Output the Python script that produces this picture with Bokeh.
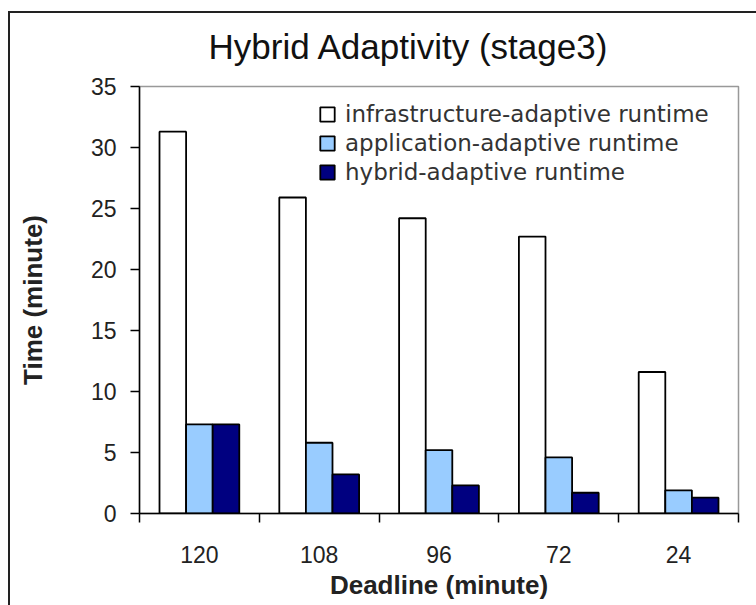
from bokeh.plotting import figure
from bokeh.models import (Range1d, FixedTicker, Legend, LegendItem, ColumnDataSource)
from bokeh.embed import file_html
from bokeh.resources import INLINE

# ---- data ----
title_text = "Hybrid Adaptivity (stage3)"
deadlines = ["120", "108", "96", "72", "24"]
series_names = ["infrastructure-adaptive runtime",
                "application-adaptive runtime",
                "hybrid-adaptive runtime"]
infra_runtime = [31.3, 25.9, 24.2, 22.7, 11.6]
app_runtime = [7.3, 5.8, 5.2, 4.6, 1.9]
hybrid_runtime = [7.3, 3.2, 2.3, 1.7, 1.3]
y_ticks = [0, 5, 10, 15, 20, 25, 30, 35]

# ---- styling ----
colors = ["#FFFFFF", "#99CCFF", "#000080"]
bar_w = 0.222
offsets = [-bar_w, 0.0, bar_w]

n = len(deadlines)
centers = [i + 0.5 for i in range(n)]

# chart-area border (left and top edges visible) painted behind a transparent canvas
border_css = ("linear-gradient(#222222,#222222) 8px 11px / 2px 100% no-repeat, "
              "linear-gradient(#222222,#222222) 8px 11px / 100% 2px no-repeat, white")

p = figure(width=756, height=605, output_backend="svg", toolbar_location=None,
           x_range=Range1d(0, n), y_range=Range1d(0, 35),
           min_border_left=139, min_border_right=18,
           min_border_top=86, min_border_bottom=92,
           styles={"background": border_css})

p.background_fill_color = "white"
p.border_fill_color = None
p.outline_line_color = "#999999"
p.outline_line_width = 1.5
p.xgrid.visible = False
p.ygrid.visible = False

# title
p.title.text = title_text
p.title.text_font = "Liberation Sans"
p.title.text_font_size = "35px"
p.title.text_font_style = "normal"
p.title.text_color = "#111111"
p.title.align = "left"
p.title.offset = 69
p.title.standoff = 41

renderers = []
for vals, col, off in zip([infra_runtime, app_runtime, hybrid_runtime], colors, offsets):
    src = ColumnDataSource(dict(x=[c + off for c in centers], top=vals))
    r = p.vbar(x="x", top="top", width=bar_w, bottom=0, source=src,
               fill_color=col, line_color="#000000", line_width=1.8)
    renderers.append(r)

# x axis: labels at category centres, ticks at category boundaries
xa = p.xaxis[0]
xa.ticker = FixedTicker(ticks=centers, minor_ticks=list(range(n + 1)))
xa.major_label_overrides = {c: lab for c, lab in zip(centers, deadlines)}
xa.major_tick_out = 0
xa.major_tick_in = 0
xa.minor_tick_out = 9
xa.minor_tick_in = 0
xa.minor_tick_line_color = "black"
xa.minor_tick_line_width = 1.5
xa.axis_line_color = "black"
xa.axis_line_width = 1.5
xa.major_label_text_font = "Liberation Sans"
xa.major_label_text_font_size = "23px"
xa.major_label_text_color = "#222222"
xa.major_label_standoff = 23
xa.axis_label = "Deadline (minute)"
xa.axis_label_text_font = "Liberation Sans"
xa.axis_label_text_font_size = "26px"
xa.axis_label_text_font_style = "bold"
xa.axis_label_text_color = "#222222"
xa.axis_label_standoff = 4

ya = p.yaxis[0]
ya.ticker = FixedTicker(ticks=y_ticks)
ya.minor_tick_out = 0
ya.minor_tick_in = 0
ya.major_tick_out = 9
ya.major_tick_in = 0
ya.major_tick_line_color = "black"
ya.major_tick_line_width = 1.5
ya.axis_line_color = "black"
ya.axis_line_width = 1.5
ya.major_label_text_font = "Liberation Sans"
ya.major_label_text_font_size = "23px"
ya.major_label_text_color = "#222222"
ya.major_label_standoff = 14
ya.axis_label = "Time (minute)"
ya.axis_label_text_font = "Liberation Sans"
ya.axis_label_text_font_size = "26px"
ya.axis_label_text_font_style = "bold"
ya.axis_label_text_color = "#222222"
ya.axis_label_standoff = 40

legend = Legend(items=[LegendItem(label=name, renderers=[r])
                       for name, r in zip(series_names, renderers)],
                location=(179, 328))
legend.border_line_alpha = 0
legend.background_fill_alpha = 0
legend.padding = 0
legend.margin = 0
legend.spacing = 2
legend.label_height = 27
legend.glyph_width = 18
legend.glyph_height = 18
legend.label_standoff = 9
legend.label_text_font = "DejaVu Sans"
legend.label_text_font_size = "23px"
legend.label_text_color = "#333333"
p.add_layout(legend)

open("out.html", "w").write(file_html(p, INLINE))
